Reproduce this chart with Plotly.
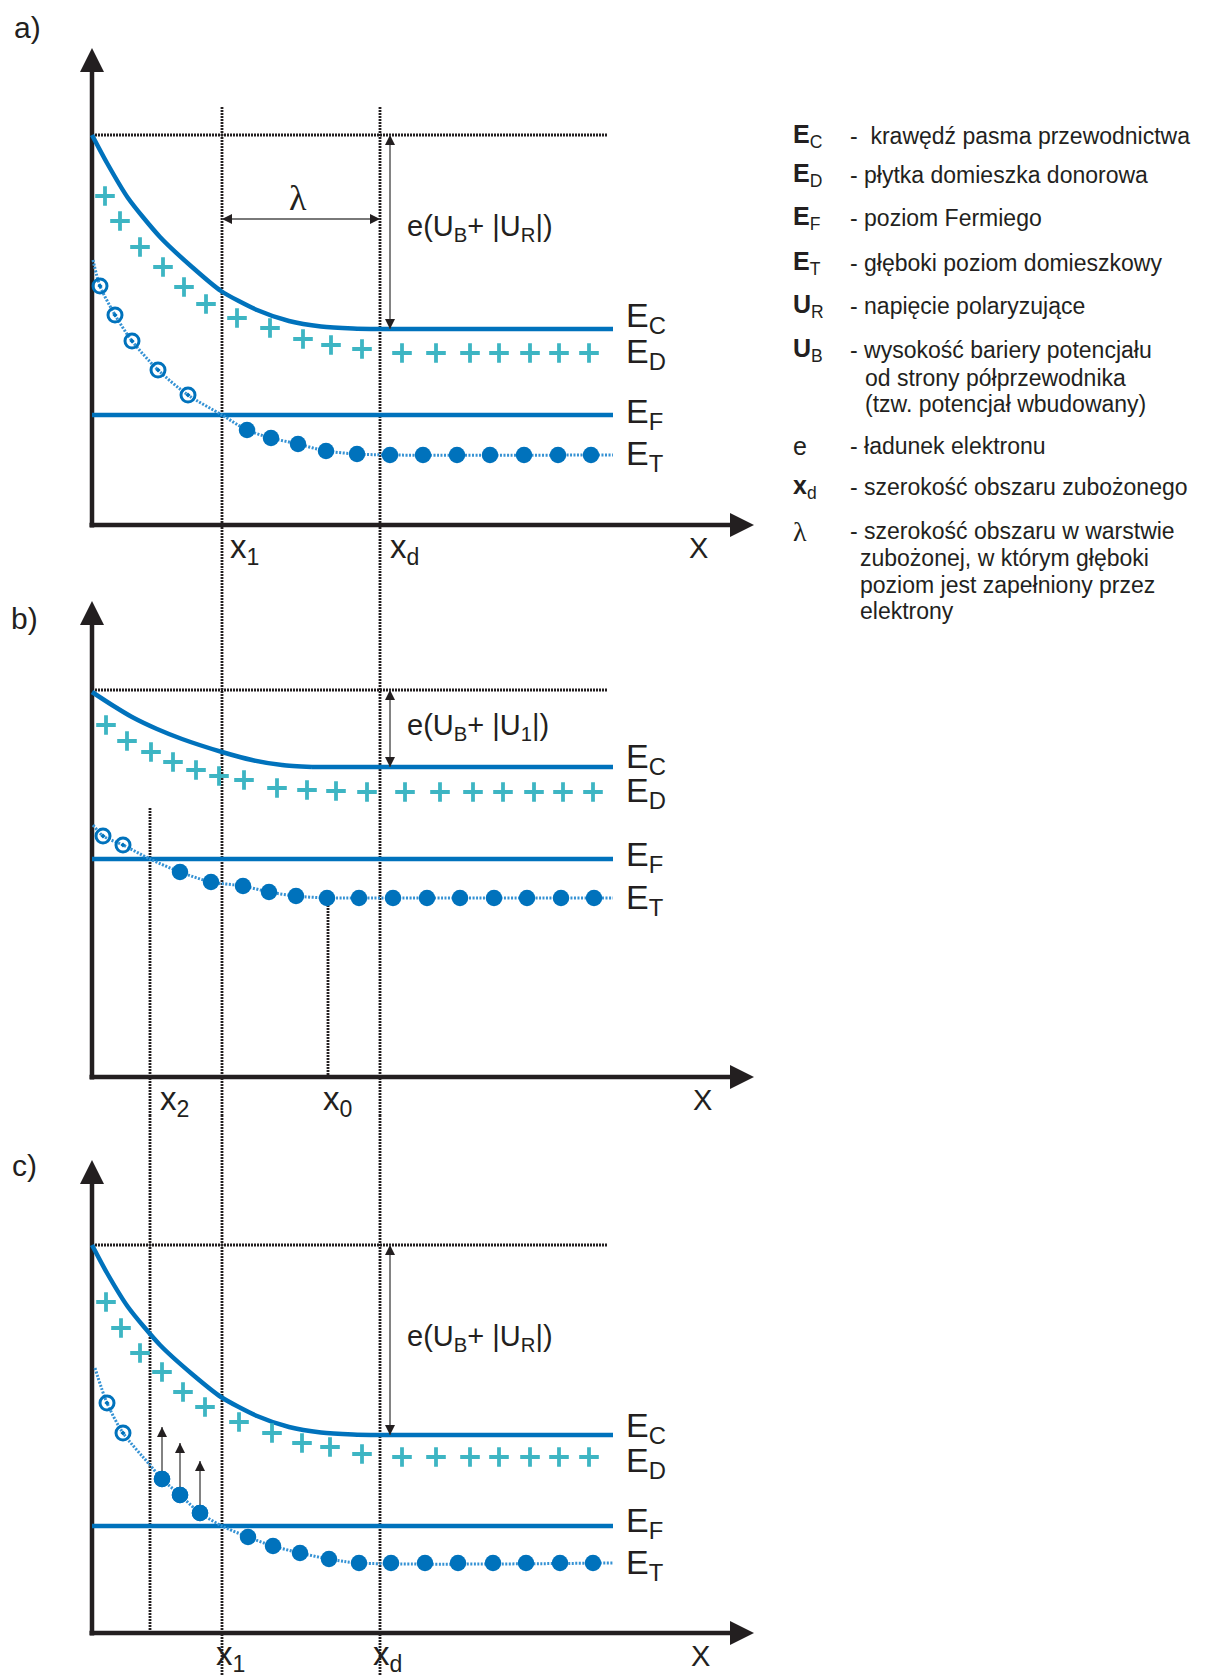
import plotly.graph_objects as go

# ---------------------------------------------------------------------------
# Page geometry (pixels) and drawing scale
# ---------------------------------------------------------------------------
W, H = 1206, 1676
PX = 10.0                 # pixels per diagram unit (both directions)
X_ORIGIN_PX = 92          # pixel column of the energy axis
# (band top, band bottom, baseline row) of panels a), b), c)
BANDS = [(0, 570, 525), (570, 1115, 1077), (1115, 1676, 1633)]

BLUE = "#0072bc"
DOT_BLUE = "#3592d4"
CYAN = "#3db5c3"
INK = "#231f20"
GREY = "#4d4d4d"
FONT = "Liberation Sans, Arial, sans-serif"
SERIF = "Liberation Serif, DejaVu Serif, serif"

# ---------------------------------------------------------------------------
# Positions along x shared by all panels (diagram units)
# ---------------------------------------------------------------------------
X_2 = 5.8
X_1 = 13.0
X_0 = 23.6
X_D = 28.8
LEVEL_END = 52.1
TOP_END = 51.6
AXIS_X_TIP = 66.2
BARRIER_ARROW_X = 29.8

# ---------------------------------------------------------------------------
# a) reverse bias U_R
# ---------------------------------------------------------------------------
A_AXIS_TIP = 47.7
A_TOP = 39.0
A_EF = 11.0
A_EC_FLAT = 19.6
A_GRID_TOP = 41.8
A_LAMBDA_Y = 30.6
# bent part of the conduction band edge (0 .. x_d)
A_EC_X = [0, 1.5, 3.6, 6.8, 10.0, 12.9, 16.5, 19.7, 22.9, 26.1, 28.8]
A_EC_Y = [39.0, 36.2, 32.7, 28.8, 25.8, 23.4, 21.5, 20.4, 19.85, 19.65, 19.6]
A_ED_X = [1.3, 2.8, 4.8, 7.1, 9.2, 11.4, 14.5, 17.8, 21.1, 23.9, 27.0,
          31.0, 34.4, 37.8, 40.7, 43.8, 46.7, 49.7]
A_ED_Y = [32.9, 30.4, 27.8, 25.8, 23.8, 22.1, 20.7, 19.7, 18.6, 18.0, 17.6,
          17.2, 17.2, 17.2, 17.2, 17.2, 17.2, 17.2]
A_ET_X = [0.1, 0.8, 2.3, 4.0, 6.6, 9.6, 13.0, 15.5, 17.9, 20.6, 23.4, 26.5, 29.8, 52.1]
A_ET_Y = [26.5, 23.9, 21.0, 18.4, 15.5, 13.0, 11.0, 9.5, 8.7, 8.1, 7.4, 7.1, 7.0, 7.0]
A_EMPTY_X = [0.8, 2.3, 4.0, 6.6, 9.6]
A_EMPTY_Y = [23.9, 21.0, 18.4, 15.5, 13.0]
A_FULL_X = [15.5, 17.9, 20.6, 23.4, 26.5, 29.8, 33.1, 36.5, 39.8, 43.2, 46.6, 49.9]
A_FULL_Y = [9.5, 8.7, 8.1, 7.4, 7.1, 7.0, 7.0, 7.0, 7.0, 7.0, 7.0, 7.0]

# ---------------------------------------------------------------------------
# b) smaller bias U_1
# ---------------------------------------------------------------------------
B_AXIS_TIP = 47.6
B_TOP = 38.7
B_EF = 21.8
B_EC_FLAT = 31.0
B_X2_TOP = 26.9
B_X0_TOP = 17.2
B_EC_X = [0, 2.0, 4.0, 6.5, 9.0, 13.0, 16.0, 19.0, 22.0]
B_EC_Y = [38.5, 37.2, 36.0, 34.8, 33.8, 32.5, 31.7, 31.2, 31.0]
B_ED_X = [1.4, 3.5, 5.9, 8.1, 10.4, 12.7, 15.2, 18.5, 21.5, 24.4, 27.5,
          31.3, 34.8, 38.1, 41.1, 44.2, 47.1, 50.1]
B_ED_Y = [35.2, 33.6, 32.5, 31.5, 30.7, 30.1, 29.7, 28.9, 28.7, 28.6, 28.5,
          28.5, 28.5, 28.5, 28.5, 28.5, 28.5, 28.5]
B_ET_X = [0.1, 1.1, 3.1, 5.8, 8.8, 11.9, 15.1, 17.7, 20.4, 23.5, 26.7, 52.1]
B_ET_Y = [25.2, 24.1, 23.2, 21.8, 20.5, 19.5, 19.1, 18.5, 18.1, 17.9, 17.9, 17.9]
B_EMPTY_X = [1.1, 3.1]
B_EMPTY_Y = [24.1, 23.2]
B_FULL_X = [8.8, 11.9, 15.1, 17.7, 20.4, 23.5, 26.7, 30.1, 33.5, 36.8, 40.2, 43.5, 46.9, 50.2]
B_FULL_Y = [20.5, 19.5, 19.1, 18.5, 18.1, 17.9, 17.9, 17.9, 17.9, 17.9, 17.9, 17.9, 17.9, 17.9]

# ---------------------------------------------------------------------------
# c) return to U_R: emission from traps between x_2 and x_1
# ---------------------------------------------------------------------------
C_AXIS_TIP = 47.3
C_TOP = 38.8
C_EF = 10.7
C_EC_FLAT = 19.8
C_EC_X = [0, 1.5, 3.6, 6.8, 10.0, 12.9, 16.5, 19.7, 22.9, 26.1, 28.8]
C_EC_Y = [38.8, 36.0, 32.6, 28.8, 25.9, 23.6, 21.7, 20.6, 20.05, 19.85, 19.8]
C_ED_X = [1.4, 2.9, 4.8, 7.0, 9.1, 11.3, 14.7, 18.0, 21.0, 23.8, 27.0,
          31.0, 34.4, 37.8, 40.7, 43.8, 46.7, 49.7]
C_ED_Y = [33.1, 30.5, 28.0, 26.1, 24.1, 22.6, 21.1, 20.0, 19.0, 18.6, 17.9,
          17.6, 17.6, 17.6, 17.6, 17.6, 17.6, 17.6]
C_ET_X = [0.3, 1.5, 3.1, 5.8, 7.0, 8.8, 10.8, 13.0, 15.6, 18.1, 20.8, 23.7, 26.7, 52.1]
C_ET_Y = [26.5, 23.0, 20.0, 16.8, 15.4, 13.8, 12.0, 10.7, 9.6, 8.7, 8.0, 7.4, 7.0, 7.0]
C_EMPTY_X = [1.5, 3.1]
C_EMPTY_Y = [23.0, 20.0]
C_FULL_X = [7.0, 8.8, 10.8, 15.6, 18.1, 20.8, 23.7, 26.7, 29.9, 33.3, 36.6, 40.1, 43.4, 46.8, 50.1]
C_FULL_Y = [15.4, 13.8, 12.0, 9.6, 8.7, 8.0, 7.4, 7.0, 7.0, 7.0, 7.0, 7.0, 7.0, 7.0, 7.0]
C_EMIT_X = [7.0, 8.8, 10.8]
C_EMIT_FROM = [15.4, 13.8, 12.0]
C_EMIT_TO = [20.6, 19.0, 17.2]

# ---------------------------------------------------------------------------
# Legend text
# ---------------------------------------------------------------------------
LEGEND_SYMBOLS = ["<b>E</b><sub>C</sub>", "<b>E</b><sub>D</sub>", "<b>E</b><sub>F</sub>",
                  "<b>E</b><sub>T</sub>", "<b>U</b><sub>R</sub>", "<b>U</b><sub>B</sub>",
                  "e", "<b>x</b><sub>d</sub>", "λ"]
LEGEND_TEXTS = ["-  krawędź pasma przewodnictwa", "- płytka domieszka donorowa",
                "- poziom Fermiego", "- głęboki poziom domieszkowy",
                "- napięcie polaryzujące", "- wysokość bariery potencjału",
                "- ładunek elektronu", "- szerokość obszaru zubożonego",
                "- szerokość obszaru w warstwie"]
LEGEND_EXTRA = ["od strony półprzewodnika", "(tzw. potencjał wbudowany)",
                "zubożonej, w którym głęboki", "poziom jest zapełniony przez", "elektrony"]
# pixel rows of the legend lines
LEGEND_ROWS = [136, 175, 218, 263, 306, 350, 446, 487, 531]
LEGEND_EXTRA_ROWS = [378, 404, 558, 585, 611]
LEGEND_EXTRA_X = [863, 863, 858, 858, 858]

fig = go.Figure()
annotations = []


def add_line(x, y, yref, color, width, dash="solid", shape="linear", smoothing=0.8):
    fig.add_trace(go.Scatter(
        x=x, y=y, xaxis="x", yaxis=yref, mode="lines",
        line=dict(color=color, width=width, dash=dash, shape=shape, smoothing=smoothing),
        hoverinfo="skip", showlegend=False))


def add_markers(x, y, yref, symbol, size, color, line_color=None, line_width=0, clip=True):
    fig.add_trace(go.Scatter(
        x=x, y=y, xaxis="x", yaxis=yref, mode="markers", cliponaxis=clip,
        marker=dict(symbol=symbol, size=size, color=color,
                    line=dict(color=line_color or color, width=line_width)),
        hoverinfo="skip", showlegend=False))


def add_text(x, y, yref, text, size, xanchor="left", yanchor="middle", family=FONT, color=INK):
    annotations.append(dict(x=x, y=y, xref="x", yref=yref, text=text, showarrow=False,
                            xanchor=xanchor, yanchor=yanchor,
                            font=dict(family=family, size=size, color=color)))


def thin_vertical_arrow(x, y0, y1, yref, both=True):
    add_line([x, x], [y0, y1], yref, GREY, 1.4)
    add_markers([x], [max(y0, y1)], yref, "arrow-up", 10, INK)
    if both:
        add_markers([x], [min(y0, y1)], yref, "arrow-down", 10, INK)


def axes(yref, y_tip):
    add_line([0, 0], [-0.25, y_tip - 1.5], yref, INK, 4.5)
    add_line([-0.25, AXIS_X_TIP - 1.5], [0, 0], yref, INK, 4.5)
    add_markers([0], [y_tip], yref, "arrow-up", 24, INK)
    add_markers([AXIS_X_TIP], [0], yref, "arrow-right", 24, INK)


def band_diagram(yref, y_tip, top, ec_x, ec_y, ec_flat, ed_x, ed_y, ef, et_x, et_y,
                 empty_x, empty_y, full_x, full_y):
    axes(yref, y_tip)
    # reference level of the barrier top
    add_line([0, TOP_END], [top, top], yref, INK, 3.0, dash="2px,1px")
    # Fermi level
    add_line([0, LEVEL_END], [ef, ef], yref, BLUE, 4.5)
    # deep trap level
    add_line(et_x, et_y, yref, DOT_BLUE, 3.0, dash="2px,1.5px", shape="spline")
    # conduction band edge: bent part, then flat bulk part
    add_line(ec_x, ec_y, yref, BLUE, 4.5, shape="spline", smoothing=0.7)
    add_line([ec_x[-1], LEVEL_END], [ec_flat, ec_flat], yref, BLUE, 4.5)
    # ionised shallow donors
    add_markers(ed_x, ed_y, yref, "cross-thin", 14, CYAN, CYAN, 3.8)
    # empty and occupied deep traps
    add_markers(empty_x, empty_y, yref, "circle-open-dot", 14, BLUE, BLUE, 3.0)
    add_markers(full_x, full_y, yref, "circle", 16.5, BLUE)


def grid_line(x, y0, y1, yref):
    add_line([x, x], [y0, y1], yref, INK, 2.8, dash="2px,1px")


# ----- vertical guide lines across the panels --------------------------------
for xv in (X_1, X_D):
    grid_line(xv, A_GRID_TOP, -20, "y")
    grid_line(xv, 80, -20, "y2")
    grid_line(xv, 80, -20, "y3")
grid_line(X_2, B_X2_TOP, -20, "y2")
grid_line(X_2, 80, 0, "y3")
grid_line(X_0, B_X0_TOP, 0, "y2")

# ----- panel a ---------------------------------------------------------------
band_diagram("y", A_AXIS_TIP, A_TOP, A_EC_X, A_EC_Y, A_EC_FLAT, A_ED_X, A_ED_Y, A_EF,
             A_ET_X, A_ET_Y, A_EMPTY_X, A_EMPTY_Y, A_FULL_X, A_FULL_Y)
thin_vertical_arrow(BARRIER_ARROW_X, A_EC_FLAT, A_TOP, "y")
add_line([X_1, X_D], [A_LAMBDA_Y, A_LAMBDA_Y], "y", GREY, 1.4)
add_markers([X_1], [A_LAMBDA_Y], "y", "arrow-left", 10, INK)
add_markers([X_D], [A_LAMBDA_Y], "y", "arrow-right", 10, INK)
add_text((X_1 + X_D) / 2 - 0.3, A_LAMBDA_Y + 2.1, "y", "λ", 36, xanchor="center", family=SERIF)
add_text(31.3, 29.7, "y", "e(U<sub>B</sub>+ |U<sub>R</sub>|)", 29)

# ----- panel b ---------------------------------------------------------------
band_diagram("y2", B_AXIS_TIP, B_TOP, B_EC_X, B_EC_Y, B_EC_FLAT, B_ED_X, B_ED_Y, B_EF,
             B_ET_X, B_ET_Y, B_EMPTY_X, B_EMPTY_Y, B_FULL_X, B_FULL_Y)
thin_vertical_arrow(BARRIER_ARROW_X, B_EC_FLAT, B_TOP, "y2")
add_text(31.3, 35.0, "y2", "e(U<sub>B</sub>+ |U<sub>1</sub>|)", 29)

# ----- panel c ---------------------------------------------------------------
band_diagram("y3", C_AXIS_TIP, C_TOP, C_EC_X, C_EC_Y, C_EC_FLAT, C_ED_X, C_ED_Y, C_EF,
             C_ET_X, C_ET_Y, C_EMPTY_X, C_EMPTY_Y, C_FULL_X, C_FULL_Y)
thin_vertical_arrow(BARRIER_ARROW_X, C_EC_FLAT, C_TOP, "y3")
for xe, y0, y1 in zip(C_EMIT_X, C_EMIT_FROM, C_EMIT_TO):
    thin_vertical_arrow(xe, y0, y1, "y3", both=False)
add_markers(C_FULL_X[:3], C_FULL_Y[:3], "y3", "circle", 16.5, BLUE)
add_text(31.3, 29.5, "y3", "e(U<sub>B</sub>+ |U<sub>R</sub>|)", 29)

# ----- level names at the right end of each panel ---------------------------
LEVEL_LABEL_X = 53.2
for yref, ys in (("y", [20.8, 17.2, 11.2, 7.0]),
                 ("y2", [31.9, 28.5, 22.1, 17.8]),
                 ("y3", [20.6, 17.1, 11.1, 6.9])):
    for name, yy in zip(["C", "D", "F", "T"], ys):
        add_text(LEVEL_LABEL_X, yy, yref, "E<sub>%s</sub>" % name, 34)

# ----- axis labels -----------------------------------------------------------
add_text(13.6, -2.4, "y", "x<sub>1</sub>", 33)
add_text(29.6, -2.4, "y", "x<sub>d</sub>", 33)
add_text(60.6, -2.3, "y", "X", 29, xanchor="center")
add_text(6.6, -2.4, "y2", "x<sub>2</sub>", 33)
add_text(22.9, -2.4, "y2", "x<sub>0</sub>", 33)
add_text(61.0, -2.3, "y2", "X", 29, xanchor="center")
add_text(12.2, -2.3, "y3", "x<sub>1</sub>", 33)
add_text(27.9, -2.3, "y3", "x<sub>d</sub>", 33)
add_text(60.8, -2.3, "y3", "X", 29, xanchor="center")

# ----- panel letters ---------------------------------------------------------
add_text(-6.5, 49.8, "y", "a)", 30, xanchor="center")
add_text(-6.8, 45.9, "y2", "b)", 30, xanchor="center")
add_text(-6.8, 46.8, "y3", "c)", 30, xanchor="center")

# ----- legend ----------------------------------------------------------------
def paper_x(px):
    return px / W


def paper_y(py):
    return 1 - py / H


for sym, txt, row in zip(LEGEND_SYMBOLS, LEGEND_TEXTS, LEGEND_ROWS):
    annotations.append(dict(x=paper_x(791), y=paper_y(row), xref="paper", yref="paper",
                            text=sym, showarrow=False, xanchor="left", yanchor="middle",
                            font=dict(family=SERIF if sym == "λ" else FONT,
                                      size=28 if sym == "λ" else 25, color=INK)))
    annotations.append(dict(x=paper_x(848), y=paper_y(row), xref="paper", yref="paper",
                            text=txt, showarrow=False, xanchor="left", yanchor="middle",
                            font=dict(family=FONT, size=23, color=INK)))
for txt, row, px in zip(LEGEND_EXTRA, LEGEND_EXTRA_ROWS, LEGEND_EXTRA_X):
    annotations.append(dict(x=paper_x(px), y=paper_y(row), xref="paper", yref="paper",
                            text=txt, showarrow=False, xanchor="left", yanchor="middle",
                            font=dict(family=FONT, size=23, color=INK)))

# ----- axes: one shared x scale, one y scale per panel ----------------------
layout_axes = {}
for i, (top_px, bot_px, base_px) in enumerate(BANDS):
    key = "yaxis" if i == 0 else "yaxis%d" % (i + 1)
    layout_axes[key] = dict(domain=[1 - bot_px / H, 1 - top_px / H],
                            range=[-(bot_px - base_px) / PX, (base_px - top_px) / PX],
                            visible=False, anchor="x", fixedrange=True)

fig.update_layout(
    width=W, height=H, autosize=False,
    margin=dict(l=0, r=0, t=0, b=0, pad=0),
    paper_bgcolor="white", plot_bgcolor="white",
    showlegend=False, hovermode=False,
    xaxis=dict(domain=[0, 1], range=[-X_ORIGIN_PX / PX, (W - X_ORIGIN_PX) / PX],
               visible=False, anchor="y3", fixedrange=True),
    annotations=annotations,
    **layout_axes,
)

fig.write_html("out.html", config={"displayModeBar": False},
               post_script="document.body.style.margin='0';")
